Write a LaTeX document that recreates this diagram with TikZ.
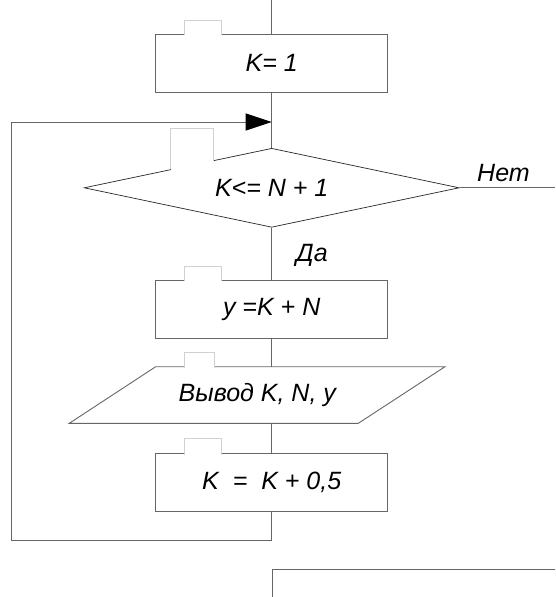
\documentclass[tikz,border=0pt]{standalone}
\usepackage{fontspec}
\setmainfont{Liberation Sans}
\usetikzlibrary{shapes.geometric,arrows.meta}

\tikzset{
	every node/.style={font=\fontsize{25}{29}\selectfont\itshape},
	block/.style={draw=black!60, line width=0.9pt, fill=white, inner sep=0pt, minimum width=232pt, minimum height=58pt},
	test/.style={draw=black!85, line width=0.7pt, fill=white, diamond, aspect=4.75, inner sep=0pt, minimum width=375pt, minimum height=79pt},
	inout/.style={draw=black!60, line width=0.9pt, fill=white},
	flow/.style={draw=black!60, line width=0.9pt},
	answer/.style={inner sep=2pt},
	tabbox/.style={draw=black!18, line width=0.7pt}
}

\begin{document}
\begin{tikzpicture}[x=1pt,y=-1pt]
	\useasboundingbox (0,0) rectangle (555,597);
	\clip (0,0) rectangle (555,597);

	\coordinate (top) at (271.7,0);
	\node[block] (k1) at (271.7,63.3) {K= 1};
	\coordinate (join) at (271.7,122);
	\node[test] (cond) at (271.7,187.8) {K<= N + 1};
	\coordinate (no) at (555,187.8);
	\node[block] (calc) at (271.7,309.3) {y =K + N};
	\coordinate (outbl) at (69.3,423.3);
	\coordinate (outtl) at (155.7,366.7);
	\coordinate (outtr) at (445,366.7);
	\coordinate (outbr) at (358.3,423.3);
	\path[inout] (outbl) -- (outtl) -- (outtr) -- (outbr) -- cycle;
	\node (out) at (257.3,395) {Вывод K, N, y};
	\node[block] (inc) at (271.7,482.5) {K\ \ =\ \ K + 0,5};
	\coordinate (back1) at (271.7,540);
	\coordinate (back2) at (11.7,540);
	\coordinate (back3) at (11.7,122);
	\node[block, anchor=north west, minimum width=320pt] (next) at (271.7,569.3) {};

	\path [flow] (top) -- (k1);
	\path [flow] (k1) -- (cond);
	\path [flow] (cond.east) -- (no) node[answer, pos=0.46, above=4pt] {Нет};
	\path [flow] (cond) -- (calc) node[answer, pos=0.54, right=22pt] {Да};
	\path [flow] (calc.south) -- (calc.south |- outtl);
	\path [flow] (inc.north |- outbl) -- (inc.north);
	\path [flow] (inc) -- (back1) -- (back2) -- (back3);
	\path [flow, -{Triangle[length=26pt, width=17pt, black]}] (back3) -- (join);

	\foreach \xa/\xb/\ya/\yl/\yr in {184.3/221/20.3/35.3/35.3, 170.7/213.3/128.3/169.2/160.5, 184.3/221.7/266/281.3/281.3, 184.3/214/352.3/367.7/367.7, 184.3/221/438.3/455/455} {
		\fill[white] (\xa,\ya) rectangle (\xb,{max(\yl,\yr)+0.9});
		\draw[tabbox] (\xa,\yl) -- (\xa,\ya) -- (\xb,\ya) -- (\xb,\yr);
	}
\end{tikzpicture}
\end{document}
